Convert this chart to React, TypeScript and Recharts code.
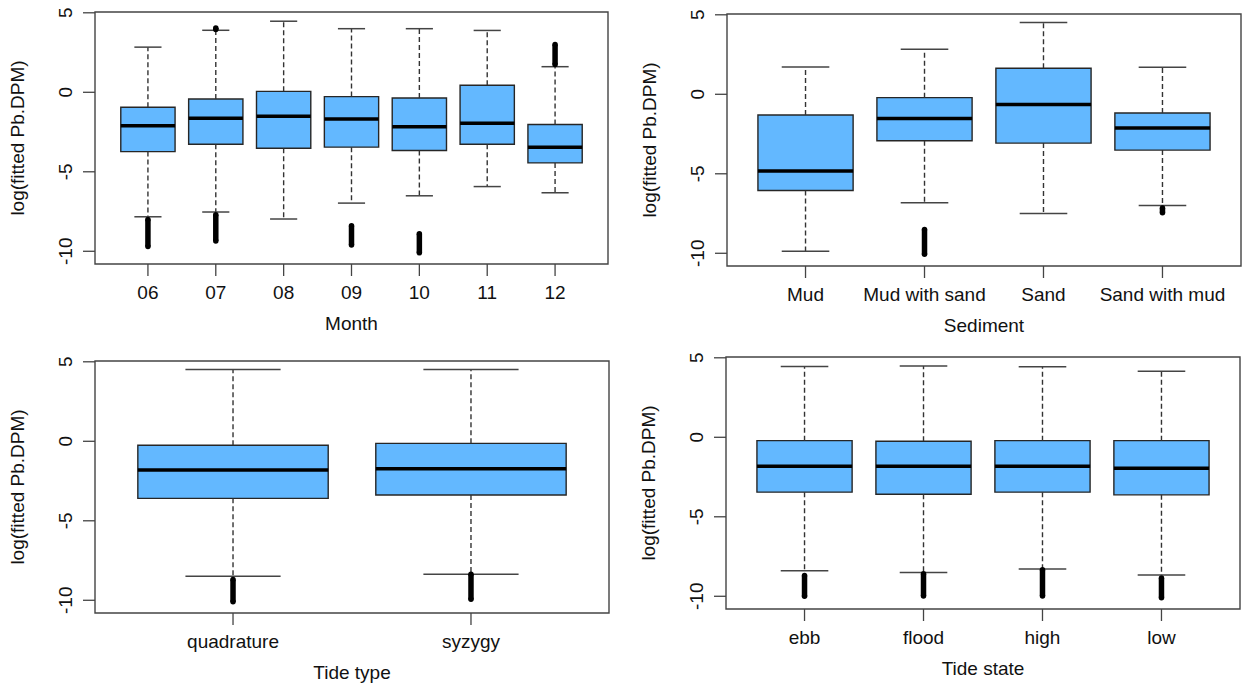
import React from 'react';
import { ComposedChart, XAxis, YAxis, Scatter, ReferenceArea, ReferenceLine } from 'recharts';

// Month panel
const monthCats = ['06', '07', '08', '09', '10', '11', '12'];
const monthLower = [-7.83, -7.53, -7.97, -6.97, -6.51, -5.93, -6.32];
const monthQ1 = [-3.73, -3.27, -3.52, -3.45, -3.66, -3.27, -4.44];
const monthMedian = [-2.1, -1.63, -1.5, -1.68, -2.16, -1.95, -3.45];
const monthQ3 = [-0.94, -0.42, 0.06, -0.27, -0.36, 0.44, -2.03];
const monthUpper = [2.84, 3.9, 4.47, 4.0, 4.0, 3.89, 1.61];
const monthOutliers: [string, number, number][] = [
  ['06', -9.7, -8.0],
  ['07', -9.35, -7.7],
  ['07', 3.95, 4.05],
  ['09', -9.6, -8.4],
  ['10', -10.1, -8.9],
  ['12', 1.75, 3.0],
];

// Sediment panel
const sedimentCats = ['Mud', 'Mud with sand', 'Sand', 'Sand with mud'];
const sedimentLower = [-9.87, -6.82, -7.5, -6.99];
const sedimentQ1 = [-6.05, -2.92, -3.07, -3.51];
const sedimentMedian = [-4.83, -1.53, -0.65, -2.12];
const sedimentQ3 = [-1.3, -0.21, 1.64, -1.18];
const sedimentUpper = [1.72, 2.84, 4.52, 1.7];
const sedimentOutliers: [string, number, number][] = [
  ['Mud with sand', -10.06, -8.5],
  ['Sand with mud', -7.45, -7.15],
];

// Tide type panel
const tideTypeCats = ['quadrature', 'syzygy'];
const tideTypeLower = [-8.49, -8.36];
const tideTypeQ1 = [-3.59, -3.38];
const tideTypeMedian = [-1.81, -1.72];
const tideTypeQ3 = [-0.25, -0.13];
const tideTypeUpper = [4.52, 4.52];
const tideTypeOutliers: [string, number, number][] = [
  ['quadrature', -10.1, -8.7],
  ['syzygy', -9.94, -8.36],
];

// Tide state panel
const tideStateCats = ['ebb', 'flood', 'high', 'low'];
const tideStateLower = [-8.39, -8.5, -8.29, -8.66];
const tideStateQ1 = [-3.45, -3.58, -3.45, -3.62];
const tideStateMedian = [-1.82, -1.82, -1.82, -1.95];
const tideStateQ3 = [-0.21, -0.25, -0.21, -0.21];
const tideStateUpper = [4.46, 4.48, 4.44, 4.16];
const tideStateOutliers: [string, number, number][] = [
  ['ebb', -10.0, -8.7],
  ['flood', -9.98, -8.58],
  ['high', -9.98, -8.33],
  ['low', -10.09, -8.85],
];

const yTicks = [-10, -5, 0, 5];
const yLabel = 'log(fitted Pb.DPM)';

const Y_MIN = -10.8;
const Y_MAX = 5.05;
const BOX_FILL = '#63B8FF';
const INK = '#111';
const FRAME = '#444';
const FONT = 19;

const YTick = (props: any) => {
  const { x, y, payload } = props;
  const bx = x - 9;
  return (
    <text x={bx} y={y} transform={`rotate(-90, ${bx}, ${y})`} textAnchor="middle" fontSize={FONT} fill={INK}>
      {payload.value}
    </text>
  );
};

interface PanelProps {
  cats: string[];
  lower: number[];
  q1: number[];
  median: number[];
  q3: number[];
  upper: number[];
  outliers: [string, number, number][];
  xTitle: string;
  left: number;
  top: number;
  width: number;
  height: number;
  yAxisWidth: number;
  marginTop: number;
  marginRight: number;
  xAxisHeight: number;
}

function BoxPanel(p: PanelProps) {
  const n = p.cats.length;
  const xMin = 0.5 - 0.04 * n;
  const xMax = n + 0.5 + 0.04 * n;
  const positions = p.cats.map((_, i) => i + 1);
  const points = p.outliers.flatMap(([c, lo, hi]) => {
    const x = p.cats.indexOf(c) + 1;
    return [
      { x, y: lo },
      { x, y: hi },
    ];
  });

  return (
    <div style={{ position: 'absolute', left: p.left, top: p.top }}>
      <ComposedChart
        width={p.width}
        height={p.height}
        margin={{ top: p.marginTop, right: p.marginRight, bottom: 0, left: 0 }}
      >
        <XAxis
          type="number"
          dataKey="x"
          domain={[xMin, xMax]}
          allowDataOverflow
          ticks={positions}
          tickFormatter={(v: number) => p.cats[v - 1] ?? ''}
          height={p.xAxisHeight}
          axisLine={false}
          tickLine={{ stroke: FRAME, strokeWidth: 1.3 }}
          tickSize={12}
          tickMargin={10}
          interval={0}
          tick={{ fill: INK, fontSize: FONT }}
          label={(lp: any) => {
            const vb = lp.viewBox;
            return (
              <text x={vb.x + vb.width / 2} y={vb.y + 66} textAnchor="middle" fontSize={FONT} fill={INK}>
                {p.xTitle}
              </text>
            );
          }}
        />
        <YAxis
          type="number"
          dataKey="y"
          domain={[Y_MIN, Y_MAX]}
          allowDataOverflow
          ticks={yTicks}
          width={p.yAxisWidth}
          axisLine={false}
          tickLine={{ stroke: FRAME, strokeWidth: 1.3 }}
          tickSize={12}
          tick={<YTick />}
          label={(lp: any) => {
            const vb = lp.viewBox;
            const bx = vb.x + vb.width - 71;
            const cy = vb.y + vb.height / 2;
            return (
              <text x={bx} y={cy} transform={`rotate(-90, ${bx}, ${cy})`} textAnchor="middle" fontSize={FONT} fill={INK}>
                {yLabel}
              </text>
            );
          }}
        />

        <ReferenceArea
          x1={xMin}
          x2={xMax}
          y1={Y_MIN}
          y2={Y_MAX}
          ifOverflow="visible"
          fill="none"
          stroke={FRAME}
          strokeWidth={1.4}
        />

        {positions.flatMap((x, i) => [
          <ReferenceLine
            key={`wu${i}`}
            segment={[{ x, y: p.q3[i] }, { x, y: p.upper[i] }]}
            stroke="#333"
            strokeWidth={1.4}
            strokeDasharray="5 3"
          />,
          <ReferenceLine
            key={`wl${i}`}
            segment={[{ x, y: p.q1[i] }, { x, y: p.lower[i] }]}
            stroke="#333"
            strokeWidth={1.4}
            strokeDasharray="5 3"
          />,
          <ReferenceLine
            key={`cu${i}`}
            segment={[{ x: x - 0.2, y: p.upper[i] }, { x: x + 0.2, y: p.upper[i] }]}
            stroke="#444"
            strokeWidth={1.5}
          />,
          <ReferenceLine
            key={`cl${i}`}
            segment={[{ x: x - 0.2, y: p.lower[i] }, { x: x + 0.2, y: p.lower[i] }]}
            stroke="#444"
            strokeWidth={1.5}
          />,
        ])}

        {positions.map((x, i) => (
          <ReferenceArea
            key={`b${i}`}
            x1={x - 0.4}
            x2={x + 0.4}
            y1={p.q1[i]}
            y2={p.q3[i]}
            fill={BOX_FILL}
            fillOpacity={1}
            stroke="#262626"
            strokeWidth={1.4}
          />
        ))}

        {positions.map((x, i) => (
          <ReferenceLine
            key={`m${i}`}
            segment={[{ x: x - 0.4, y: p.median[i] }, { x: x + 0.4, y: p.median[i] }]}
            stroke="#000"
            strokeWidth={3.5}
          />
        ))}

        {p.outliers.map(([c, lo, hi], i) => {
          const x = p.cats.indexOf(c) + 1;
          return (
            <ReferenceLine
              key={`o${i}`}
              segment={[{ x, y: lo }, { x, y: hi }]}
              stroke="#000"
              strokeWidth={5.5}
            />
          );
        })}

        <Scatter
          data={points}
          dataKey="y"
          isAnimationActive={false}
          shape={(sp: any) => <circle cx={sp.cx} cy={sp.cy} r={2.75} fill="#000" />}
        />
      </ComposedChart>
    </div>
  );
}

export default function App() {
  return (
    <div
      style={{
        position: 'absolute',
        left: 0,
        top: 0,
        width: 1242,
        height: 686,
        background: '#fff',
        fontFamily: '"Liberation Sans", Arial, sans-serif',
      }}
    >
      <BoxPanel
        cats={monthCats}
        lower={monthLower}
        q1={monthQ1}
        median={monthMedian}
        q3={monthQ3}
        upper={monthUpper}
        outliers={monthOutliers}
        xTitle="Month"
        left={0}
        top={0}
        width={620}
        height={340}
        yAxisWidth={95}
        marginTop={12}
        marginRight={12}
        xAxisHeight={76}
      />
      <BoxPanel
        cats={sedimentCats}
        lower={sedimentLower}
        q1={sedimentQ1}
        median={sedimentMedian}
        q3={sedimentQ3}
        upper={sedimentUpper}
        outliers={sedimentOutliers}
        xTitle="Sediment"
        left={620}
        top={0}
        width={622}
        height={340}
        yAxisWidth={107}
        marginTop={14}
        marginRight={1}
        xAxisHeight={74}
      />
      <BoxPanel
        cats={tideTypeCats}
        lower={tideTypeLower}
        q1={tideTypeQ1}
        median={tideTypeMedian}
        q3={tideTypeQ3}
        upper={tideTypeUpper}
        outliers={tideTypeOutliers}
        xTitle="Tide type"
        left={0}
        top={340}
        width={620}
        height={346}
        yAxisWidth={95}
        marginTop={21}
        marginRight={11}
        xAxisHeight={73}
      />
      <BoxPanel
        cats={tideStateCats}
        lower={tideStateLower}
        q1={tideStateQ1}
        median={tideStateMedian}
        q3={tideStateQ3}
        upper={tideStateUpper}
        outliers={tideStateOutliers}
        xTitle="Tide state"
        left={620}
        top={340}
        width={622}
        height={346}
        yAxisWidth={106}
        marginTop={17}
        marginRight={2}
        xAxisHeight={77}
      />
    </div>
  );
}
